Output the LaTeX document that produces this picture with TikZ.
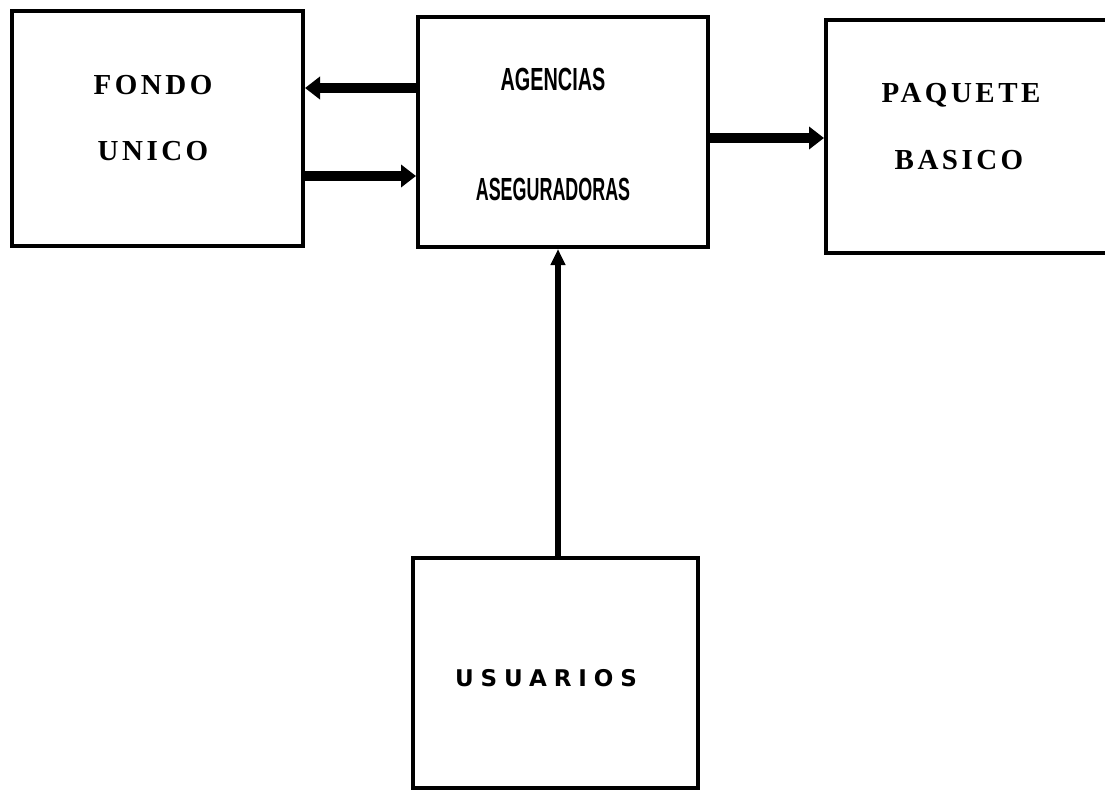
\documentclass[tikz,border=0pt]{standalone}
\usepackage{fontspec}
\usetikzlibrary{arrows.meta}
\newfontfamily\boxserif[LetterSpace=12]{Liberation Serif}
\newfontfamily\usrsans[LetterSpace=30]{DejaVu Sans}
\newfontfamily\narrowsans{Liberation Sans}
\tikzset{
  blk/.style={draw, line width=4pt, rectangle, inner sep=0pt, fill=white},
  lbl/.style={inner sep=0pt, anchor=center},
  fat/.style={line width=10pt, -{Triangle[width=22pt,length=15pt]}},
  thin/.style={line width=6pt, -{Triangle[width=14pt,length=16pt]}}
}
\begin{document}
\begin{tikzpicture}[x=1pt,y=-1pt]
\clip (0,0) rectangle (1105,797);
\fill[white] (0,0) rectangle (1105,797);
% boxes
\node[blk, minimum width=291pt, minimum height=235pt] (fondo) at (157.5,128.5) {};
\node[blk, minimum width=290pt, minimum height=230pt] (agencias) at (563,132) {};
\node[blk, minimum width=300pt, minimum height=233pt] (paquete) at (976,136.5) {};
\node[blk, minimum width=285pt, minimum height=230pt] (usuarios) at (555.5,673) {};
% labels
\node[lbl] (tfondo) at (153,85) {\fontsize{29}{31}\boxserif\bfseries FONDO};
\node[lbl] (tunico) at (153,151) {\fontsize{29}{31}\boxserif\bfseries UNICO};
\node[lbl] (tagen) at (553,79) {\scalebox{0.62}[1]{\fontsize{32}{34}\narrowsans\bfseries AGENCIAS}};
\node[lbl] (taseg) at (553,189) {\scalebox{0.56}[1]{\fontsize{32}{34}\narrowsans\bfseries ASEGURADORAS}};
\node[lbl] (tpaq) at (961,95) {\fontsize{29}{31}\boxserif\bfseries PAQUETE};
\node[lbl] (tbas) at (959,160) {\fontsize{29}{31}\boxserif\bfseries BASICO};
\node[lbl] (tusu) at (546,678) {\fontsize{23}{25}\usrsans\bfseries USUARIOS};
% connector levels
\coordinate (ya) at (0,88);
\coordinate (yb) at (0,176);
\coordinate (yc) at (0,138);
\coordinate (xv) at (558,0);
% connectors
\draw[fat] (agencias.west |- ya) -- (fondo.east |- ya);
\draw[fat] (fondo.east |- yb) -- (agencias.west |- yb);
\draw[fat] (agencias.east |- yc) -- (paquete.west |- yc);
\draw[thin] (usuarios.north -| xv) -- (agencias.south -| xv);
\end{tikzpicture}
\end{document}
